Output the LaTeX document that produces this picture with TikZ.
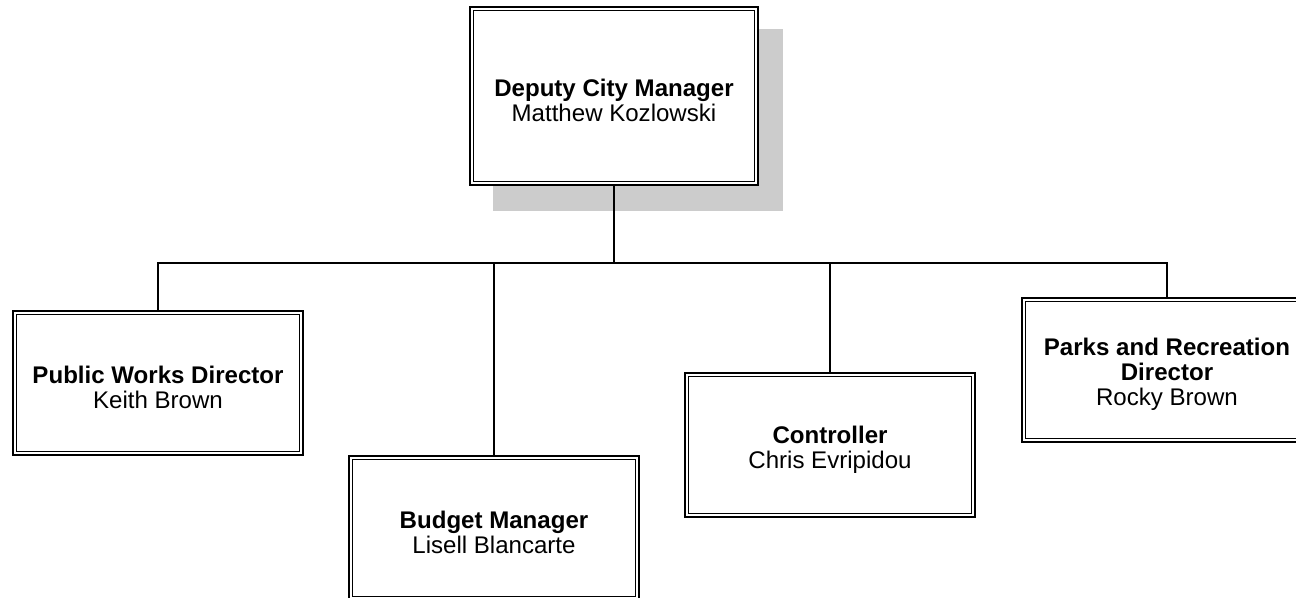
\documentclass[tikz,border=0pt]{standalone}
\usepackage{fontspec}
\setmainfont{Liberation Sans}
\usepackage{xcolor}
\usepackage{tikz}
\usetikzlibrary{calc}
\definecolor{ink}{HTML}{000000}
\definecolor{shadowgray}{HTML}{CCCCCC}
\tikzset{
  unit/.style={draw=ink, line width=1.4pt, fill=white, align=center,
    minimum width=5.8cm, minimum height=2.88cm, inner sep=0pt, text height=29.3pt,
    font=\fontsize{13.7}{14.2}\selectfont},
  head/.style={unit, minimum width=5.76cm, minimum height=3.56cm},
  link/.style={draw=ink, line width=0.85pt},
  inner/.style={draw=ink, line width=0.55pt},
}

\begin{document}
\begin{tikzpicture}[x=0.02cm, y=-0.02cm]
  \useasboundingbox (0,0) rectangle (1296,598);
  % shadow first, box on top
  \fill[shadowgray] (493,29) rectangle (783,211);
  \node[head] (dcm) at (614,96) {\textbf{Deputy City Manager}\\Matthew Kozlowski};
  \node[unit] (pw) at (158,383) {\textbf{Public Works Director}\\Keith Brown};
  \node[unit] (bm) at (494,528) {\textbf{Budget Manager}\\Lisell Blancarte};
  \node[unit] (ctl) at (830,445) {\textbf{Controller}\\Chris Evripidou};
  \node[unit, text height=43pt] (pr) at (1167,370) {\textbf{Parks and Recreation}\\\textbf{Director}\\Rocky Brown};
  \foreach \n in {dcm,pw,bm,ctl,pr}
    \draw[inner] ($(\n.north west)+(4.5,4.5)$) rectangle ($(\n.south east)+(-4.5,-4.5)$);
  \coordinate (bus) at (614,263);
  \draw[link] (dcm.south) -- (bus);
  \foreach \n in {pw,bm,ctl,pr}
    \draw[link] (bus) -| (\n.north);
\end{tikzpicture}
\end{document}
